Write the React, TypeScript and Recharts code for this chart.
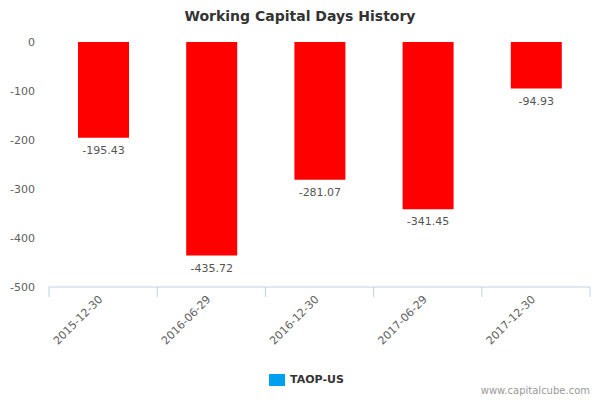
import React from "react";
import { BarChart, Bar, XAxis, YAxis, LabelList } from "recharts";

const categories = ["2015-12-30", "2016-06-29", "2016-12-30", "2017-06-29", "2017-12-30"];
const values = [-195.43, -435.72, -281.07, -341.45, -94.93];
const yTicks = [0, -100, -200, -300, -400, -500];
const seriesName = "TAOP-US";
const title = "Working Capital Days History";
const credit = "www.capitalcube.com";

const data = categories.map((c, i) => ({ date: c, value: values[i] }));

const FONT = "'DejaVu Sans', Verdana, sans-serif";

const XTick = (props: any) => {
  const { x, y, payload, index, visibleTicksCount } = props;
  const half = payload && payload.offset ? payload.offset : 54.1;
  return (
    <g>
      <line x1={x - half} y1={y} x2={x - half} y2={y + 10} stroke="#c0d0e0" strokeWidth={1} />
      {index === visibleTicksCount - 1 && (
        <line x1={x + half} y1={y} x2={x + half} y2={y + 10} stroke="#c0d0e0" strokeWidth={1} />
      )}
      <text
        transform={`translate(${x},${y + 13}) rotate(-45)`}
        textAnchor="end"
        fontSize={11}
        fill="#606060"
        fontFamily={FONT}
      >
        {payload.value}
      </text>
    </g>
  );
};

const ValueLabel = (props: any) => {
  const { x, y, width, height, value } = props;
  const bottom = Math.max(y, y + height);
  return (
    <text
      x={x + width / 2}
      y={bottom + 16}
      textAnchor="middle"
      fontSize={11}
      fill="#555555"
      fontFamily={FONT}
    >
      {value}
    </text>
  );
};

export default function App() {
  return (
    <div style={{ position: "absolute", left: 0, top: 0, width: 600, height: 400, background: "#fff", fontFamily: FONT }}>
      <BarChart width={600} height={400} data={data} margin={{ top: 42, right: 10, bottom: 43, left: 0 }}>
        <XAxis
          dataKey="date"
          axisLine={{ stroke: "#c0d0e0" }}
          tickLine={false}
          tickSize={0}
          tickMargin={0}
          height={70}
          interval={0}
          tick={<XTick />}
        />
        <YAxis
          domain={[-500, 0]}
          ticks={yTicks}
          width={49}
          axisLine={false}
          tickLine={false}
          tickSize={0}
          tickMargin={14}
          tick={{ fontSize: 11, fill: "#606060", fontFamily: FONT }}
          interval={0}
        />
        <Bar dataKey="value" fill="#ff0000" barSize={51} isAnimationActive={false}>
          <LabelList dataKey="value" content={<ValueLabel />} />
        </Bar>
      </BarChart>
      <div
        style={{
          position: "absolute",
          left: 0,
          width: 600,
          top: 8,
          textAlign: "center",
          fontSize: 14,
          fontWeight: "bold",
          color: "#333333",
          fontFamily: FONT,
        }}
      >
        {title}
      </div>
      <div
        style={{
          position: "absolute",
          left: 269,
          top: 373,
          display: "flex",
          alignItems: "center",
          fontFamily: FONT,
        }}
      >
        <div style={{ width: 16, height: 12, background: "#00a0f0" }} />
        <span style={{ marginLeft: 5, fontSize: 11, fontWeight: "bold", color: "#333333" }}>{seriesName}</span>
      </div>
      <div
        style={{
          position: "absolute",
          right: 10,
          top: 385,
          fontSize: 10,
          color: "#999999",
          letterSpacing: 0,
          fontFamily: FONT,
        }}
      >
        {credit}
      </div>
    </div>
  );
}
